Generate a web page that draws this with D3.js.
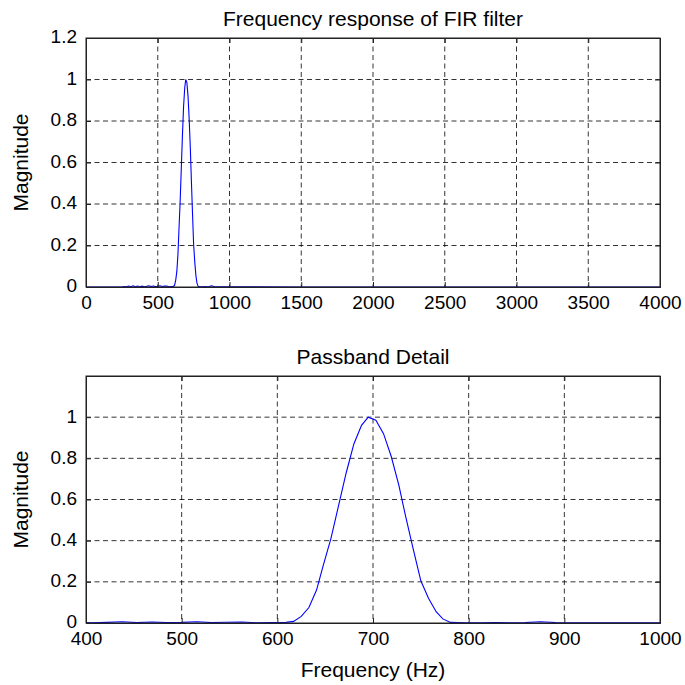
<!DOCTYPE html>
<html><head><meta charset="utf-8">
<script src="https://cdn.jsdelivr.net/npm/d3@7"></script>
<style>
html,body{margin:0;padding:0;background:#fff;}
text{font-family:"Liberation Sans",Arial,sans-serif;fill:#000;}
</style></head>
<body><svg id="c" width="685" height="685"></svg>
<script>
// Data
const freqHz = [0,100,200,250,266,281,297,313,328,344,359,375,391,406,422,438,453,469,484,500,516,531,547,563,578,594,
  602,609,617,625,633,641,648,656,664,672,680,688,695,703,711,719,727,734,742,750,758,766,773,781,789,
  797,813,828,844,859,875,891,906,922,938,953,969,984,1000,1500,2000,2500,3000,3500,4000];
const magnitude = [0,0,0,0,0.002,0.001,0.005,0.001,0.006,0.001,0.005,0.001,0.004,0.001,0.003,0.006,0.002,0.005,0.002,0.003,0.006,0.002,0.004,0.005,0.001,0.002,
  0.002,0.003,0.008,0.032,0.075,0.16,0.28,0.41,0.57,0.73,0.87,0.96,1.0,0.985,0.92,0.81,0.67,0.52,0.36,0.205,0.12,0.055,0.02,0.003,0.002,
  0.001,0.001,0.002,0.001,0.002,0.006,0.002,0.001,0.001,0.001,0.001,0.001,0.001,0.001,0,0,0,0,0,0];
const topXTicks = [0,500,1000,1500,2000,2500,3000,3500,4000];
const topYTicks = [0,0.2,0.4,0.6,0.8,1,1.2];
const botXTicks = [400,500,600,700,800,900,1000];
const botYTicks = [0,0.2,0.4,0.6,0.8,1];
const titles = ["Frequency response of FIR filter","Passband Detail"];
const yLabel = "Magnitude";
const xLabel = "Frequency (Hz)";

const svg = d3.select("#c");
const pts = freqHz.map((f,i)=>({f, m: magnitude[i]}));
const TICK_FS = 19, LABEL_FS = 21;

function panel(id, top, bottom, xdom, ydom, xt, yt, title, xlab){
  const left = 86, right = 660;
  const x = d3.scaleLinear().domain(xdom).range([left,right]);
  const y = d3.scaleLinear().domain(ydom).range([bottom,top]);
  const g = svg.append("g");
  g.append("clipPath").attr("id",id).append("rect")
    .attr("x",left).attr("y",top-2).attr("width",right-left).attr("height",bottom-top+2);
  // grid
  g.selectAll(".gx").data(xt.slice(1,-1)).join("line")
    .attr("x1",d=>x(d)).attr("x2",d=>x(d)).attr("y1",top).attr("y2",bottom)
    .attr("stroke","#000").attr("stroke-width",0.8).attr("stroke-dasharray","5,3.5");
  g.selectAll(".gy").data(yt.filter(v=>v>ydom[0] && v<ydom[1])).join("line")
    .attr("y1",d=>y(d)).attr("y2",d=>y(d)).attr("x1",left).attr("x2",right)
    .attr("stroke","#000").attr("stroke-width",0.8).attr("stroke-dasharray","5,3.5");
  // line
  g.append("path").datum(pts).attr("clip-path",`url(#${id})`)
    .attr("fill","none").attr("stroke","#0000ff").attr("stroke-width",1.1)
    .attr("d", d3.line().x(d=>x(d.f)).y(d=>y(d.m)));
  // axes
  g.append("g").attr("transform",`translate(0,${bottom})`)
    .call(d3.axisBottom(x).tickValues(xt).tickSize(-5).tickPadding(9).tickFormat(d3.format("d")));
  const ay = g.append("g").attr("transform",`translate(${left},0)`)
    .call(d3.axisLeft(y).tickValues(yt).tickSize(-5).tickPadding(9).tickFormat(d=>String(d)));
  ay.selectAll(".tick text").attr("dy","0.26em");
  g.append("g").attr("transform",`translate(0,${top})`)
    .call(d3.axisTop(x).tickValues(xt).tickSize(-5).tickFormat(""));
  g.append("g").attr("transform",`translate(${right},0)`)
    .call(d3.axisRight(y).tickValues(yt).tickSize(-5).tickFormat(""));
  g.selectAll(".domain").attr("stroke","#222").attr("stroke-width",1);
  g.selectAll(".tick line").attr("stroke","#222");
  g.selectAll(".tick text").attr("font-size",TICK_FS).attr("font-family","Liberation Sans, Arial, sans-serif");
  g.append("rect").attr("x",left).attr("y",top).attr("width",right-left).attr("height",bottom-top)
    .attr("fill","none").attr("stroke","#222").attr("stroke-width",1);
  g.append("text").attr("x",(left+right)/2).attr("y",top-12).attr("text-anchor","middle")
    .attr("font-size",LABEL_FS).text(title);
  g.append("text").attr("transform",`translate(28,${(top+bottom)/2}) rotate(-90)`)
    .attr("text-anchor","middle").attr("font-size",LABEL_FS).text(yLabel);
  if(xlab) g.append("text").attr("x",(left+right)/2).attr("y",bottom+54).attr("text-anchor","middle")
    .attr("font-size",LABEL_FS).text(xlab);
}
panel("cp1", 38, 287, [0,4000], [0,1.2], topXTicks, topYTicks, titles[0], null);
panel("cp2", 376, 623, [400,1000], [0,1.2], botXTicks, botYTicks, titles[1], xLabel);
</script></body></html>
